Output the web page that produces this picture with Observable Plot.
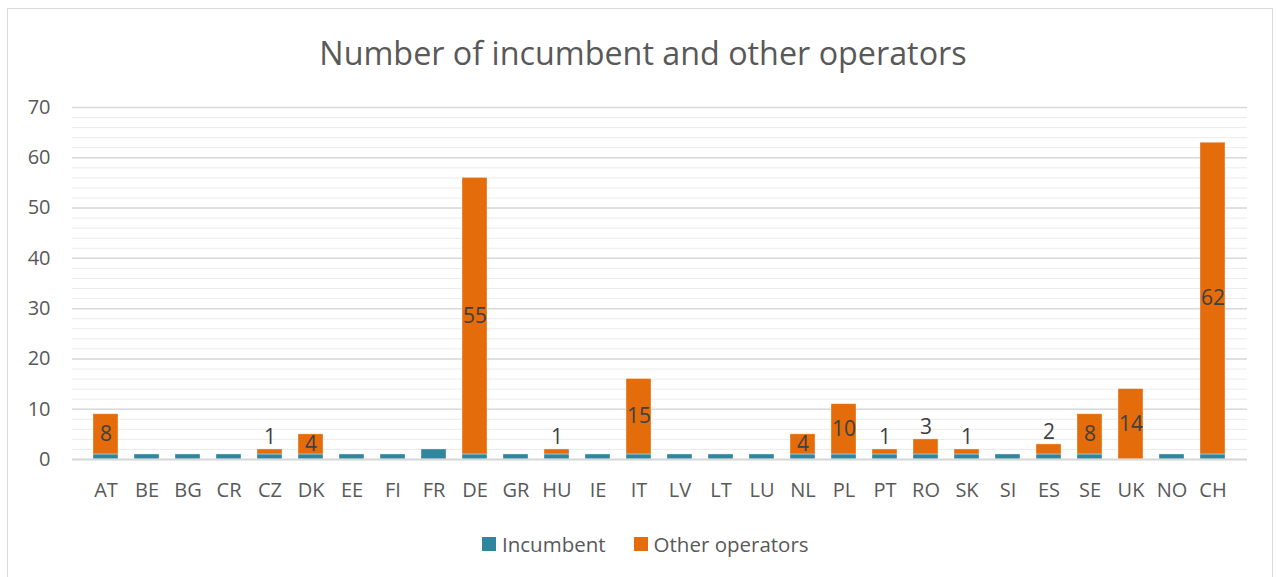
<!DOCTYPE html>
<html>
<head>
<meta charset="utf-8">
<script src="https://cdn.jsdelivr.net/npm/d3@7"></script>
<script src="https://cdn.jsdelivr.net/npm/@observablehq/plot@0.6"></script>
<style>
  html, body { margin: 0; padding: 0; background: #fff; }
  body { width: 1276px; height: 577px; overflow: hidden; position: relative; font-family: "Open Sans", Lato, sans-serif; }
  #frame { position: absolute; left: 7px; top: 8px; width: 1266px; height: 600px; border: 1.5px solid #d9d9d9; box-sizing: border-box; }
  #title { position: absolute; left: 0; width: 1286px; top: 30px; text-align: center; font-size: 32.3px; color: #595959; }
  #chart { position: absolute; left: 0; top: 0; }
  #legend { position: absolute; top: 530px; left: 482px; display: flex; align-items: center; font-size: 20.5px; color: #595959; }
  .sw { width: 14px; height: 14px; display: inline-block; margin-right: 6px; }
  .item { display: flex; align-items: center; margin-right: 28px; }
</style>
</head>
<body>
<div id="frame"></div>
<div id="title">Number of incumbent and other operators</div>
<div id="chart"></div>
<div id="legend">
  <div class="item"><span class="sw" style="background:#31859c"></span>Incumbent</div>
  <div class="item"><span class="sw" style="background:#e46c0a"></span>Other operators</div>
</div>
<script>
const countries = ["AT","BE","BG","CR","CZ","DK","EE","FI","FR","DE","GR","HU","IE","IT","LV","LT","LU","NL","PL","PT","RO","SK","SI","ES","SE","UK","NO","CH"];
const incumbent = [1,1,1,1,1,1,1,1,2,1,1,1,1,1,1,1,1,1,1,1,1,1,1,1,1,0,1,1];
const otherOperators = [8,0,0,0,1,4,0,0,0,55,0,1,0,15,0,0,0,4,10,1,3,1,0,2,8,14,0,62];
const seriesNames = ["Incumbent", "Other operators"];
const seriesColors = ["#31859c", "#e46c0a"];
const yTicks = [0,10,20,30,40,50,60,70];
const minorTicks = d3.range(0, 71, 2);

const rows = [];
countries.forEach((c, i) => {
  rows.push({country: c, series: seriesNames[0], value: incumbent[i]});
  rows.push({country: c, series: seriesNames[1], value: otherOperators[i]});
});
const labels = countries.map((c, i) => ({country: c, inc: incumbent[i], other: otherOperators[i]})).filter(d => d.other > 0);
const inside = labels.filter(d => d.other > 3);
const above = labels.filter(d => d.other <= 3);

const chart = Plot.plot({
  width: 1276,
  height: 510,
  marginTop: 107,
  marginBottom: 51,
  marginLeft: 72,
  marginRight: 29,
  style: {fontFamily: "'Open Sans', Lato, sans-serif", fontSize: "20px", color: "#595959", background: "transparent"},
  x: {domain: countries, padding: 0.38},
  y: {domain: [0, 70]},
  color: {domain: seriesNames, range: seriesColors},
  marks: [
    Plot.ruleY(minorTicks, {stroke: "#ebebeb", strokeWidth: 1}),
    Plot.ruleY(yTicks, {stroke: "#d9d9d9", strokeWidth: 1.5}),
    Plot.axisY({ticks: yTicks, label: null, tickSize: 0, tickPadding: 22, fontSize: 20, fill: "#595959"}),
    Plot.axisX({label: null, tickSize: 0, tickPadding: 23, fontSize: 20, fill: "#595959"}),
    Plot.barY(rows, {x: "country", y: "value", fill: "series", order: seriesNames, stroke: "#fff", strokeOpacity: 0.45, strokeWidth: 0.8}),
    Plot.ruleY([0], {stroke: "#d9d9d9", strokeWidth: 2}),
    Plot.text(inside, {x: "country", y: d => d.inc + d.other / 2, text: d => String(d.other), fill: "#404040", fontSize: 21}),
    Plot.text(above, {x: "country", y: d => d.inc + d.other, text: d => String(d.other), fill: "#404040", fontSize: 21, dy: -12})
  ]
});
document.getElementById("chart").appendChild(chart);
</script>
</body>
</html>
